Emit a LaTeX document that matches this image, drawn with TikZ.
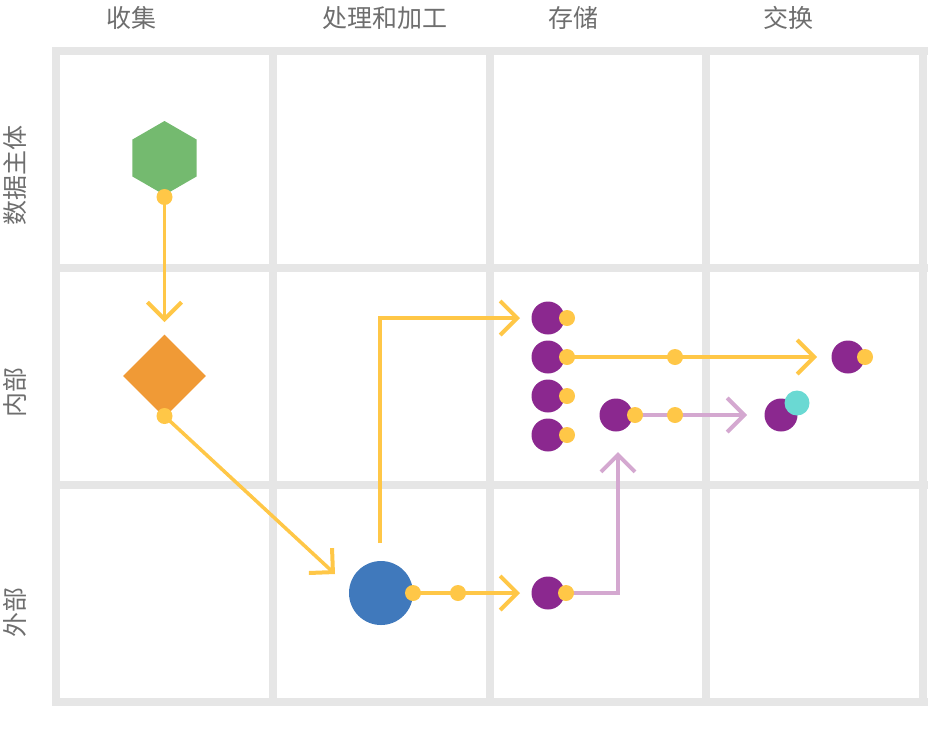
\documentclass[tikz,border=0pt]{standalone}
\usepackage{fontspec}
\newfontfamily\cjk{Noto Sans CJK SC}
\usetikzlibrary{arrows.meta,shapes.geometric}
\definecolor{gridc}{HTML}{E6E6E6}
\definecolor{txtc}{HTML}{6E6E6E}
\definecolor{greenc}{HTML}{74BA6F}
\definecolor{orangec}{HTML}{F09A36}
\definecolor{bluec}{HTML}{4079BC}
\definecolor{purplec}{HTML}{8B288F}
\definecolor{yellowc}{HTML}{FFC747}
\definecolor{pinkc}{HTML}{D4A8D0}
\definecolor{cyanc}{HTML}{6AD9D3}
\begin{document}
\begin{tikzpicture}[x=1pt,y=-1pt,
  gridline/.style={draw=gridc,line width=8pt},
  lbl/.style={text=txtc,font=\cjk\fontsize{25}{25}\selectfont,inner sep=0},
  dot/.style={circle,fill=yellowc,minimum size=16pt,inner sep=0},
  pnode/.style={circle,fill=purplec,minimum size=33pt,inner sep=0},
  flowy/.style={draw=yellowc,line width=3.5pt,-{Straight Barb[length=17pt,width=34pt,line width=4pt]}},
  flowp/.style={draw=pinkc,line width=3.5pt,-{Straight Barb[length=17pt,width=34pt,line width=4pt]}}]
\useasboundingbox (0,0) rectangle (944,748);
% grid
\foreach \yy in {51,268,485,702} \draw[gridline] (52,\yy) -- (928,\yy);
\foreach \xx in {56,273,490,706,923} \draw[gridline] (\xx,47) -- (\xx,706);
% labels
\node[lbl] (c1) at (131,18) {收集};
\node[lbl] (c2) at (385,18) {处理和加工};
\node[lbl] (c3) at (573,18) {存储};
\node[lbl] (c4) at (788,18) {交换};
\node[lbl,rotate=90] (r1) at (15,175) {数据主体};
\node[lbl,rotate=90] (r2) at (15,392) {内部};
\node[lbl,rotate=90] (r3) at (15,612) {外部};
% shapes
\node[regular polygon,regular polygon sides=6,shape border rotate=30,fill=greenc,minimum size=74pt,inner sep=0] (hex) at (164.5,158) {};
\node[diamond,fill=orangec,minimum width=83pt,minimum height=83pt,inner sep=0] (dia) at (164.5,376) {};
\node[circle,fill=bluec,minimum size=64pt,inner sep=0] (blue) at (381,593) {};
\node[pnode] (s1) at (548,318) {};
\node[pnode] (s2) at (548,357) {};
\node[pnode] (s3) at (548,396) {};
\node[pnode] (s4) at (548,435) {};
\node[pnode] (s5) at (616,415) {};
\node[pnode] (s6) at (548,593) {};
\node[pnode] (e1) at (848,357) {};
\node[pnode] (e2) at (781,415) {};
% dot positions
\coordinate (dh) at (164.5,197);
\coordinate (dd) at (164.5,416);
\coordinate (db) at (413,593);
\coordinate (mb) at (458,593);
\coordinate (d1) at (567,318);
\coordinate (d2) at (567,357);
\coordinate (d3) at (567,396);
\coordinate (d4) at (567,435);
\coordinate (d5) at (635,415);
\coordinate (d6) at (566,593);
\coordinate (m2) at (675,357);
\coordinate (m5) at (675,415);
\coordinate (de1) at (865,357);
% arrow ends
\coordinate (t1) at (164.5,322);
\coordinate (t2) at (335,574);
\coordinate (t3) at (520,593);
\coordinate (vs) at (380,543);
\coordinate (vc) at (380,318);
\coordinate (t4) at (520,318);
\coordinate (t5) at (817,357);
\coordinate (t6) at (747,415);
\coordinate (pc) at (618,593);
\coordinate (t7) at (618,452);
% connectors
\draw[flowy] (dh) -- (t1);
\draw[flowy] (dd) -- (t2);
\draw[flowy] (db) -- (t3);
\draw[flowy] (vs) -- (vc) -- (t4);
\draw[flowy] (d2) -- (t5);
\draw[flowp] (d5) -- (t6);
\draw[flowp] (d6) -- (pc) -- (t7);
% dots
\foreach \p/\n in {dh/ydh,dd/ydd,db/ydb,mb/ymb,d1/yd1,d2/yd2,d3/yd3,d4/yd4,d5/yd5,d6/yd6,m2/ym2,m5/ym5,de1/yde1}
  \node[dot] (\n) at (\p) {};
\node[circle,fill=cyanc,minimum size=25pt,inner sep=0] (cy) at (797,403) {};
\end{tikzpicture}
\end{document}
